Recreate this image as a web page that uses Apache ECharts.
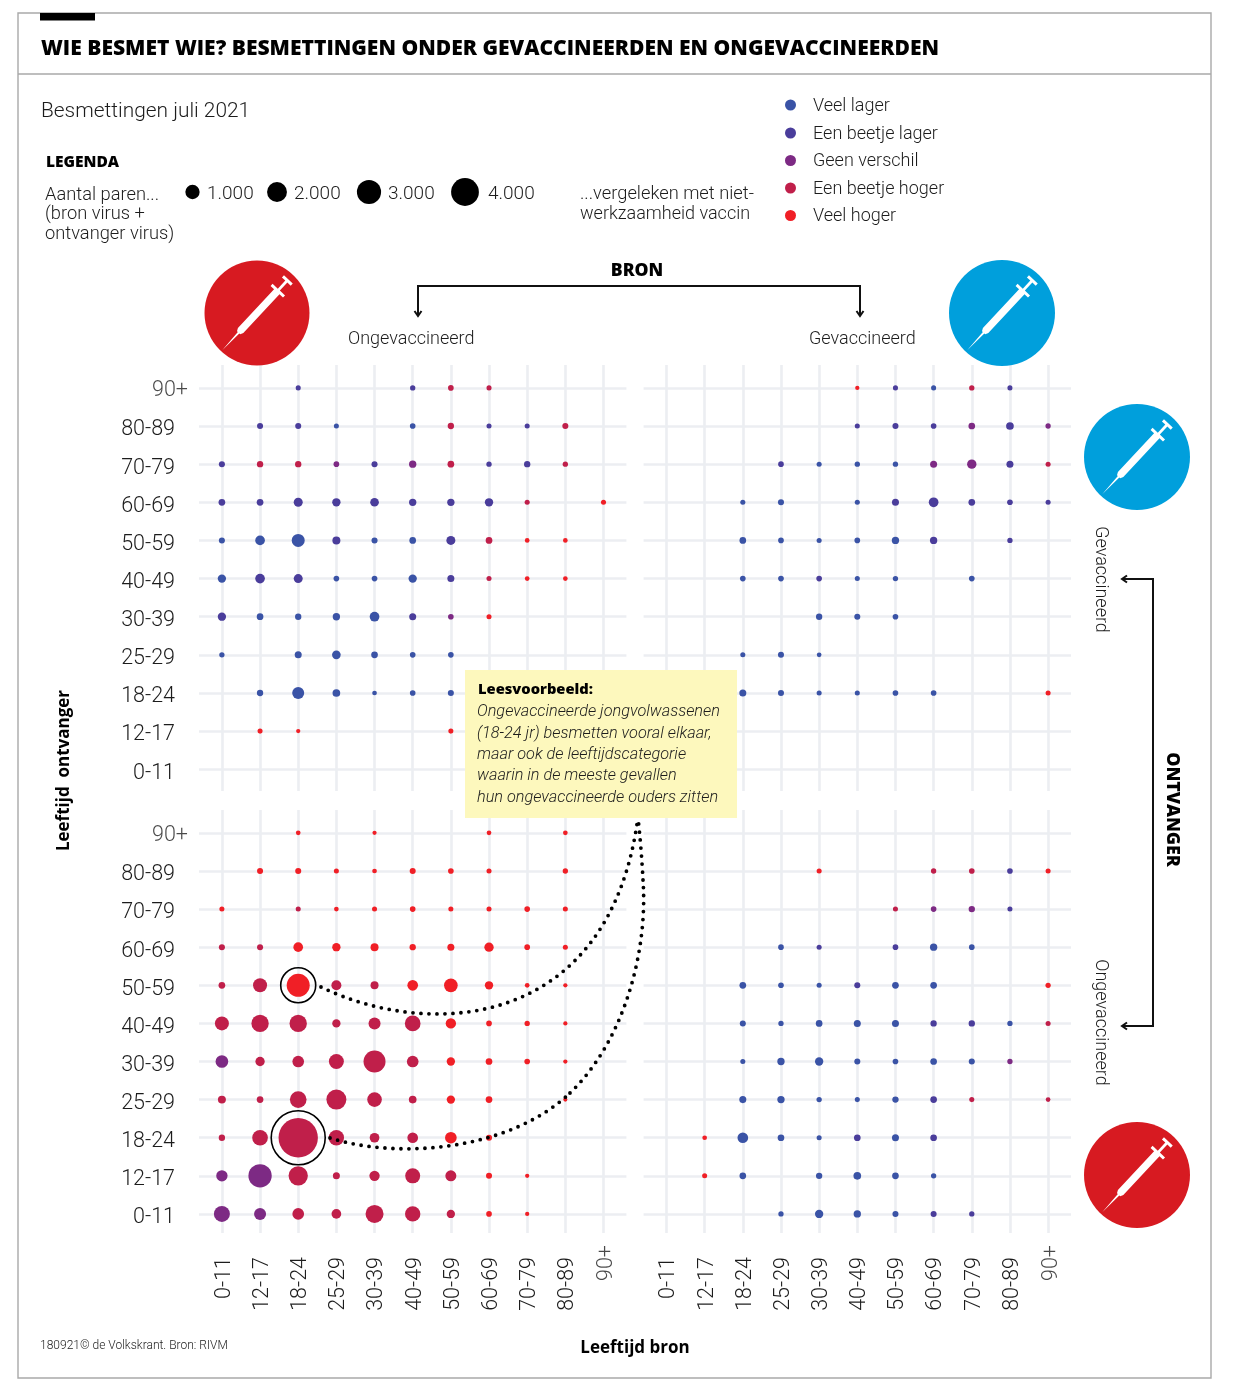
<!DOCTYPE html>
<html><head><meta charset="utf-8">
<style>html,body{margin:0;padding:0;background:#fff}#c{width:1240px;height:1391px}</style>
<script src="https://cdn.jsdelivr.net/npm/echarts@6/dist/echarts.min.js"></script>
</head><body><div id="c"></div>
<script>
const _ = null;
const ageLabels = ['0-11','12-17','18-24','25-29','30-39','40-49','50-59','60-69','70-79','80-89','90+'];
const classNames = ['Veel lager','Een beetje lager','Geen verschil','Een beetje hoger','Veel hoger'];
const classColors = ['#3a53a6','#4a3d9b','#7d2a84','#c01f4a','#f01f26'];
const legendSizes = [1000,2000,3000,4000];

// rows: recipient age 90+ (first) down to 0-11 (last); columns: source age 0-11 ... 90+
const topLeftValues = [
 [_,_,140,_,_,155,175,140,_,_,_],
 [_,200,200,140,_,175,220,140,140,200,_],
 [200,220,220,175,200,295,245,155,220,155,_],
 [245,245,445,380,410,295,295,380,140,_,140],
 [200,515,925,350,200,245,445,245,120,120,_],
 [380,515,445,175,175,380,270,140,120,120,_],
 [380,245,220,295,515,270,175,140,_,_,_],
 [155,_,270,410,245,175,175,_,_,_,_],
 [_,220,790,325,120,175,200,_,_,_,_],
 [_,140,100,_,_,_,140,_,_,_,_],
 [_,_,_,_,_,_,_,_,_,_,_]];
const topLeftClasses = [
 [_,_,1,_,_,1,3,3,_,_,_],
 [_,1,1,0,_,0,3,1,1,3,_],
 [1,3,3,2,1,2,3,1,1,3,_],
 [1,1,1,1,1,1,1,1,3,_,4],
 [0,0,0,1,0,0,1,3,4,4,_],
 [0,1,1,0,0,0,1,3,4,4,_],
 [1,0,0,0,0,1,2,4,_,_,_],
 [0,_,0,0,0,0,0,_,_,_,_],
 [_,0,0,0,0,0,0,_,_,_,_],
 [_,4,4,_,_,_,4,_,_,_,_],
 [_,_,_,_,_,_,_,_,_,_,_]];
const topRightValues = [
 [_,_,_,_,_,100,140,140,155,140,_],
 [_,_,_,_,_,140,200,175,245,325,155],
 [_,_,_,175,140,155,155,270,480,270,140],
 [_,_,140,200,_,140,270,515,245,175,140],
 [_,_,245,175,140,175,295,295,_,155,_],
 [_,_,175,175,175,140,155,_,175,_,_],
 [_,_,_,_,220,200,175,_,_,_,_],
 [_,_,140,200,120,_,_,_,_,_,_],
 [_,_,270,200,140,140,175,175,_,_,140],
 [_,_,_,_,_,_,_,_,_,_,_],
 [_,_,_,_,_,_,_,_,_,_,_]];
const topRightClasses = [
 [_,_,_,_,_,4,1,0,3,1,_],
 [_,_,_,_,_,1,1,1,2,1,2],
 [_,_,_,1,0,0,0,2,2,1,3],
 [_,_,0,0,_,0,1,1,1,1,1],
 [_,_,0,0,0,0,0,1,_,1,_],
 [_,_,0,0,1,0,0,_,0,_,_],
 [_,_,_,_,0,0,0,_,_,_,_],
 [_,_,0,0,0,_,_,_,_,_,_],
 [_,_,0,0,0,0,0,0,_,_,4],
 [_,_,_,_,_,_,_,_,_,_,_],
 [_,_,_,_,_,_,_,_,_,_,_]];
const bottomLeftValues = [
 [_,_,120,_,100,_,_,120,_,120,_],
 [_,200,200,140,120,200,175,140,_,155,_],
 [140,_,140,120,140,175,140,140,175,140,_],
 [200,200,515,380,350,220,270,480,175,140,_],
 [245,1075,2905,550,350,625,1025,380,120,100,_],
 [1075,1650,1650,380,790,1345,585,175,155,100,_],
 [880,480,745,1235,2655,745,380,245,175,100,_],
 [350,245,1525,2195,1180,325,380,245,_,90,_],
 [220,1345,8490,1290,515,625,745,200,_,_,_],
 [705,2985,2050,270,585,1235,665,200,100,_,_],
 [1405,790,745,515,1780,1290,380,175,100,_,_]];
const bottomLeftClasses = [
 [_,_,4,_,4,_,_,4,_,4,_],
 [_,4,4,4,4,4,4,4,_,4,_],
 [4,_,3,4,4,4,4,4,4,4,_],
 [3,3,4,4,4,4,4,4,4,4,_],
 [3,3,4,3,3,4,4,4,4,4,_],
 [3,3,3,3,3,3,4,4,4,4,_],
 [2,3,3,3,3,3,4,4,4,4,_],
 [3,3,3,3,3,3,4,4,_,4,_],
 [3,3,3,3,3,3,4,4,_,_,_],
 [2,2,3,3,3,3,3,4,4,_,_],
 [2,2,3,3,3,3,3,4,4,_,_]];
const bottomRightValues = [
 [_,_,_,_,_,_,_,_,_,_,_],
 [_,_,_,_,140,_,_,155,175,175,140],
 [_,_,_,_,_,_,140,175,220,140,_],
 [_,_,_,175,140,_,175,295,175,_,_],
 [_,_,245,175,140,200,245,245,_,_,155],
 [_,_,200,155,245,270,270,220,220,155,140],
 [_,_,140,295,380,200,175,245,200,155,_],
 [_,_,270,295,155,140,220,245,140,_,120],
 [_,120,625,245,140,245,270,245,_,_,_],
 [_,140,245,_,220,325,245,155,_,_,_],
 [_,_,_,155,380,295,200,200,155,_,_]];
const bottomRightClasses = [
 [_,_,_,_,_,_,_,_,_,_,_],
 [_,_,_,_,4,_,_,3,3,1,4],
 [_,_,_,_,_,_,3,2,2,1,_],
 [_,_,_,0,1,_,1,0,0,_,_],
 [_,_,0,0,0,1,0,0,_,_,4],
 [_,_,0,0,0,0,0,1,1,0,3],
 [_,_,0,0,0,0,0,0,0,2,_],
 [_,_,0,0,0,0,0,1,3,_,3],
 [_,4,0,0,0,1,0,1,_,_,_],
 [_,4,0,_,0,0,0,0,_,_,_],
 [_,_,_,0,0,0,0,1,1,_,_]];
// highlighted pairs in the reading example: [source index, recipient index, ring diameter]
const highlightPairs = [[2,6,35],[2,2,54]];
const readingExample = ['Ongevaccineerde jongvolwassenen','(18-24 jr) besmetten vooral elkaar,','maar ook de leeftijdscategorie','waarin in de meeste gevallen','hun ongevaccineerde ouders zitten'];

const FONT = 'Roboto';
const HEAVY = '"Open Sans"';
const INK = '#1c1c1c';
const sizeFor = v => 13.5 * Math.sqrt(v / 1000);
const ticks = ageLabels.map((_l, i) => i);
const axisFont = {fontFamily:FONT,fontWeight:300,fontSize:21.5,color:INK};

const panels = [
 {v:topLeftValues,c:topLeftClasses,left:199,top:365,w:427.4,h:426,yMin:-0.57,yLabel:true,xLabel:false},
 {v:topRightValues,c:topRightClasses,left:643.6,top:365,w:427.4,h:426,yMin:-0.57,yLabel:false,xLabel:false},
 {v:bottomLeftValues,c:bottomLeftClasses,left:199,top:810,w:427.4,h:423,yMin:-0.5,yLabel:true,xLabel:true},
 {v:bottomRightValues,c:bottomRightClasses,left:643.6,top:810,w:427.4,h:423,yMin:-0.5,yLabel:false,xLabel:true}
];
const grids=[],xAxes=[],yAxes=[],series=[];
const grey = {color:'#eceef2',width:2.6};
const labelTicks = ticks.slice(0,10); // the 90+ labels sit out of line and are drawn as point labels below
panels.forEach((p,k)=>{
  grids.push({left:p.left,top:p.top,width:p.w,height:p.h,containLabel:false});
  xAxes.push({type:'value',gridIndex:k,min:-0.6,max:10.6,
    axisLine:{show:false},axisTick:{show:false,customValues:ticks},
    splitLine:{show:true,lineStyle:grey,customValues:ticks},
    axisLabel:{show:p.xLabel,customValues:labelTicks,rotate:90,margin:24,verticalAlign:'top',lineHeight:5,...axisFont,formatter:v=>ageLabels[v]}});
  yAxes.push({type:'value',gridIndex:k,min:p.yMin,max:10.6,
    axisLine:{show:false},axisTick:{show:false,customValues:ticks},
    splitLine:{show:true,lineStyle:grey,customValues:ticks},
    axisLabel:{show:p.yLabel,customValues:labelTicks,margin:24,verticalAlign:'top',lineHeight:8,...axisFont,formatter:v=>ageLabels[v]}});
  const data=[];
  p.v.forEach((row,r)=>row.forEach((val,col)=>{
    if(val!==null) data.push({value:[col,10-r,val],itemStyle:{color:classColors[p.c[r][col]],opacity:1}});
  }));
  series.push({type:'scatter',xAxisIndex:k,yAxisIndex:k,data,z:3,silent:true,
    symbolSize:d=>sizeFor(d[2]),emphasis:{disabled:true}});
  if(p.xLabel) series.push({type:'scatter',xAxisIndex:k,yAxisIndex:k,data:[[10,p.yMin]],symbolSize:0,silent:true,
    label:{show:true,formatter:ageLabels[10],rotate:90,position:[3.5,12],align:'right',verticalAlign:'middle',...axisFont}});
  if(p.yLabel) series.push({type:'scatter',xAxisIndex:k,yAxisIndex:k,data:[[-0.6,10]],symbolSize:0,silent:true,
    label:{show:true,formatter:ageLabels[10],position:[-11,2.5],align:'right',verticalAlign:'middle',...axisFont}});
});
series.push({type:'scatter',xAxisIndex:2,yAxisIndex:2,z:4,silent:true,
  data:highlightPairs.map(h=>[h[0],h[1],h[2]]),symbolSize:d=>d[2],
  itemStyle:{color:'rgba(0,0,0,0)',borderColor:'#000',borderWidth:1.6,opacity:1}});

function T(x,y,text,o={}){return {type:'text',x,y:y+1.5,rotation:o.rot||0,z:o.z||50,silent:true,
  style:{text,fill:o.fill||INK,font:`${o.italic?'italic ':''}${o.w||300} ${o.s||18}px ${o.f||FONT}`,
    textAlign:o.a||'left',textVerticalAlign:'middle',textBaseline:'middle'}};}
function L(points,w,color,z){return {type:'polyline',z:z||50,silent:true,shape:{points},style:{stroke:color||'#111',lineWidth:w||2,fill:null}};}
const syringeShape=[[-51,0],[-27,-1],[-27,-2.2],[-24,-3.7],[29,-3.7],[29,-8.5],[32,-8.5],[32,-1.4],[43,-1.4],[43,-6],[46,-6],[46,6],[43,6],[43,1.4],[32,1.4],[32,8.5],[29,8.5],[29,3.7],[-24,3.7],[-27,2.2],[-27,1]];
function syringe(cx,cy,r,color){
  return [{type:'circle',z:40,silent:true,shape:{cx,cy,r},style:{fill:color}},
   {type:'polygon',z:41,silent:true,x:cx,y:cy,rotation:Math.PI/180*47,shape:{points:syringeShape},style:{fill:'#fff'}}];
}
const arrowDown=(x,y)=>({type:'polyline',z:50,silent:true,shape:{points:[[x-3.5,y-5],[x,y],[x+3.5,y-5]]},style:{stroke:'#111',lineWidth:2,fill:null}});
const arrowLeft=(x,y)=>({type:'polyline',z:50,silent:true,shape:{points:[[x+5,y-3.5],[x,y],[x+5,y+3.5]]},style:{stroke:'#111',lineWidth:2,fill:null}});
const G=[];
// frame
G.push({type:'rect',z:10,silent:true,shape:{x:18,y:13,width:1193,height:1365},style:{stroke:'#a9a9a9',lineWidth:1.4,fill:null}});
G.push({type:'line',z:10,silent:true,shape:{x1:18,y1:74,x2:1211,y2:74},style:{stroke:'#a9a9a9',lineWidth:1.4}});
G.push({type:'rect',z:10,silent:true,shape:{x:40,y:13,width:55,height:7.5},style:{fill:'#000'}});
G.push(T(41,47.5,'WIE BESMET WIE? BESMETTINGEN ONDER GEVACCINEERDEN EN ONGEVACCINEERDEN',{w:800,s:21.05,f:HEAVY,fill:'#000'}));
G.push(T(41,110,'Besmettingen juli 2021',{s:20.9}));
G.push(T(46,161,'LEGENDA',{w:800,s:15.5,f:HEAVY,fill:'#000'}));
['Aantal paren...','(bron virus +','ontvanger virus)'].forEach((t,i)=>G.push(T(45,[194,213,232.5][i],t,{s:18.3})));
const lgX=[192.5,277,369,465], lgT=[207,294,388,488], lgLab=['1.000','2.000','3.000','4.000'];
legendSizes.forEach((v,i)=>{G.push({type:'circle',z:50,silent:true,shape:{cx:lgX[i],cy:192,r:sizeFor(v)/2+0.4},style:{fill:'#000'}});
  G.push(T(lgT[i],193,lgLab[i],{s:19}));});
G.push(T(580,193,'...vergeleken met niet-',{s:18.3}));
G.push(T(580,212.5,'werkzaamheid vaccin',{s:18}));
classNames.forEach((t,i)=>{const y=[105,133,160.5,188,215.5][i];
  G.push({type:'circle',z:50,silent:true,shape:{cx:790.5,cy:y,r:5.5},style:{fill:classColors[i]}});
  G.push(T(813,y-0.5,t,{s:18}));});
// icons
G.push(...syringe(257,313,52.5,'#d71a21'));
G.push(...syringe(1002,313,53,'#009fdc'));
G.push(...syringe(1137,457,53,'#009fdc'));
G.push(...syringe(1137,1175,53,'#d71a21'));
// BRON bracket
G.push(T(637,269.5,'BRON',{w:800,s:17.6,f:HEAVY,a:'center',fill:'#000'}));
G.push(L([[418,316],[418,286],[860,286],[860,316]],2));
G.push(arrowDown(418,316),arrowDown(860,316));
G.push(T(348,337.5,'Ongevaccineerd',{s:18}));
G.push(T(809,337.5,'Gevaccineerd',{s:18}));
// ONTVANGER bracket
G.push(L([[1123,579],[1153,579],[1153,1026],[1123,1026]],2));
G.push(arrowLeft(1122,579),arrowLeft(1122,1026));
G.push(T(1172,808,'ONTVANGER',{w:800,s:17.8,f:HEAVY,a:'center',rot:-Math.PI/2,fill:'#000'}));
G.push(T(1100,578,'Gevaccineerd',{s:18,a:'center',rot:-Math.PI/2}));
G.push(T(1100,1021,'Ongevaccineerd',{s:18,a:'center',rot:-Math.PI/2}));
G.push(T(64,769,'Leeftijd  ontvanger',{w:700,s:17,f:HEAVY,a:'center',rot:Math.PI/2,fill:'#000'}));
G.push(T(635,1347,'Leeftijd bron',{w:700,s:17,f:HEAVY,a:'center',fill:'#000'}));
G.push(T(40,1344.5,'180921© de Volkskrant. Bron: RIVM',{s:12}));
// reading example
G.push({type:'rect',z:60,silent:true,shape:{x:465,y:670,width:272,height:148},style:{fill:'#fdf8bd'}});
G.push(T(478,688.5,'Leesvoorbeeld:',{w:800,s:14.7,f:HEAVY,z:61,fill:'#000'}));
readingExample.forEach((t,i)=>G.push(T(477,[710.5,732,753,774.5,796][i],t,{italic:true,s:16.3,z:61})));
// dotted leaders
const dots={stroke:'#000',lineWidth:3.8,lineCap:'round',lineDash:[0,8],fill:null};
const curves=[[321,987,430,1040,610,1030,638,817],[330,1138,400,1160,510,1150,570,1093],[570,1093,625,1040,648,950,643,880],[643,880,642,860,640,835,638,818]];
curves.forEach(c=>G.push({type:'bezierCurve',z:70,silent:true,
  shape:{x1:c[0],y1:c[1],cpx1:c[2],cpy1:c[3],cpx2:c[4],cpy2:c[5],x2:c[6],y2:c[7]},style:dots}));

const chart=echarts.init(document.getElementById('c'),null,{renderer:'canvas',width:1240,height:1391});
chart.setOption({animation:false,backgroundColor:'#fff',tooltip:{show:false},grid:grids,xAxis:xAxes,yAxis:yAxes,series,graphic:{elements:G}});
</script></body></html>
